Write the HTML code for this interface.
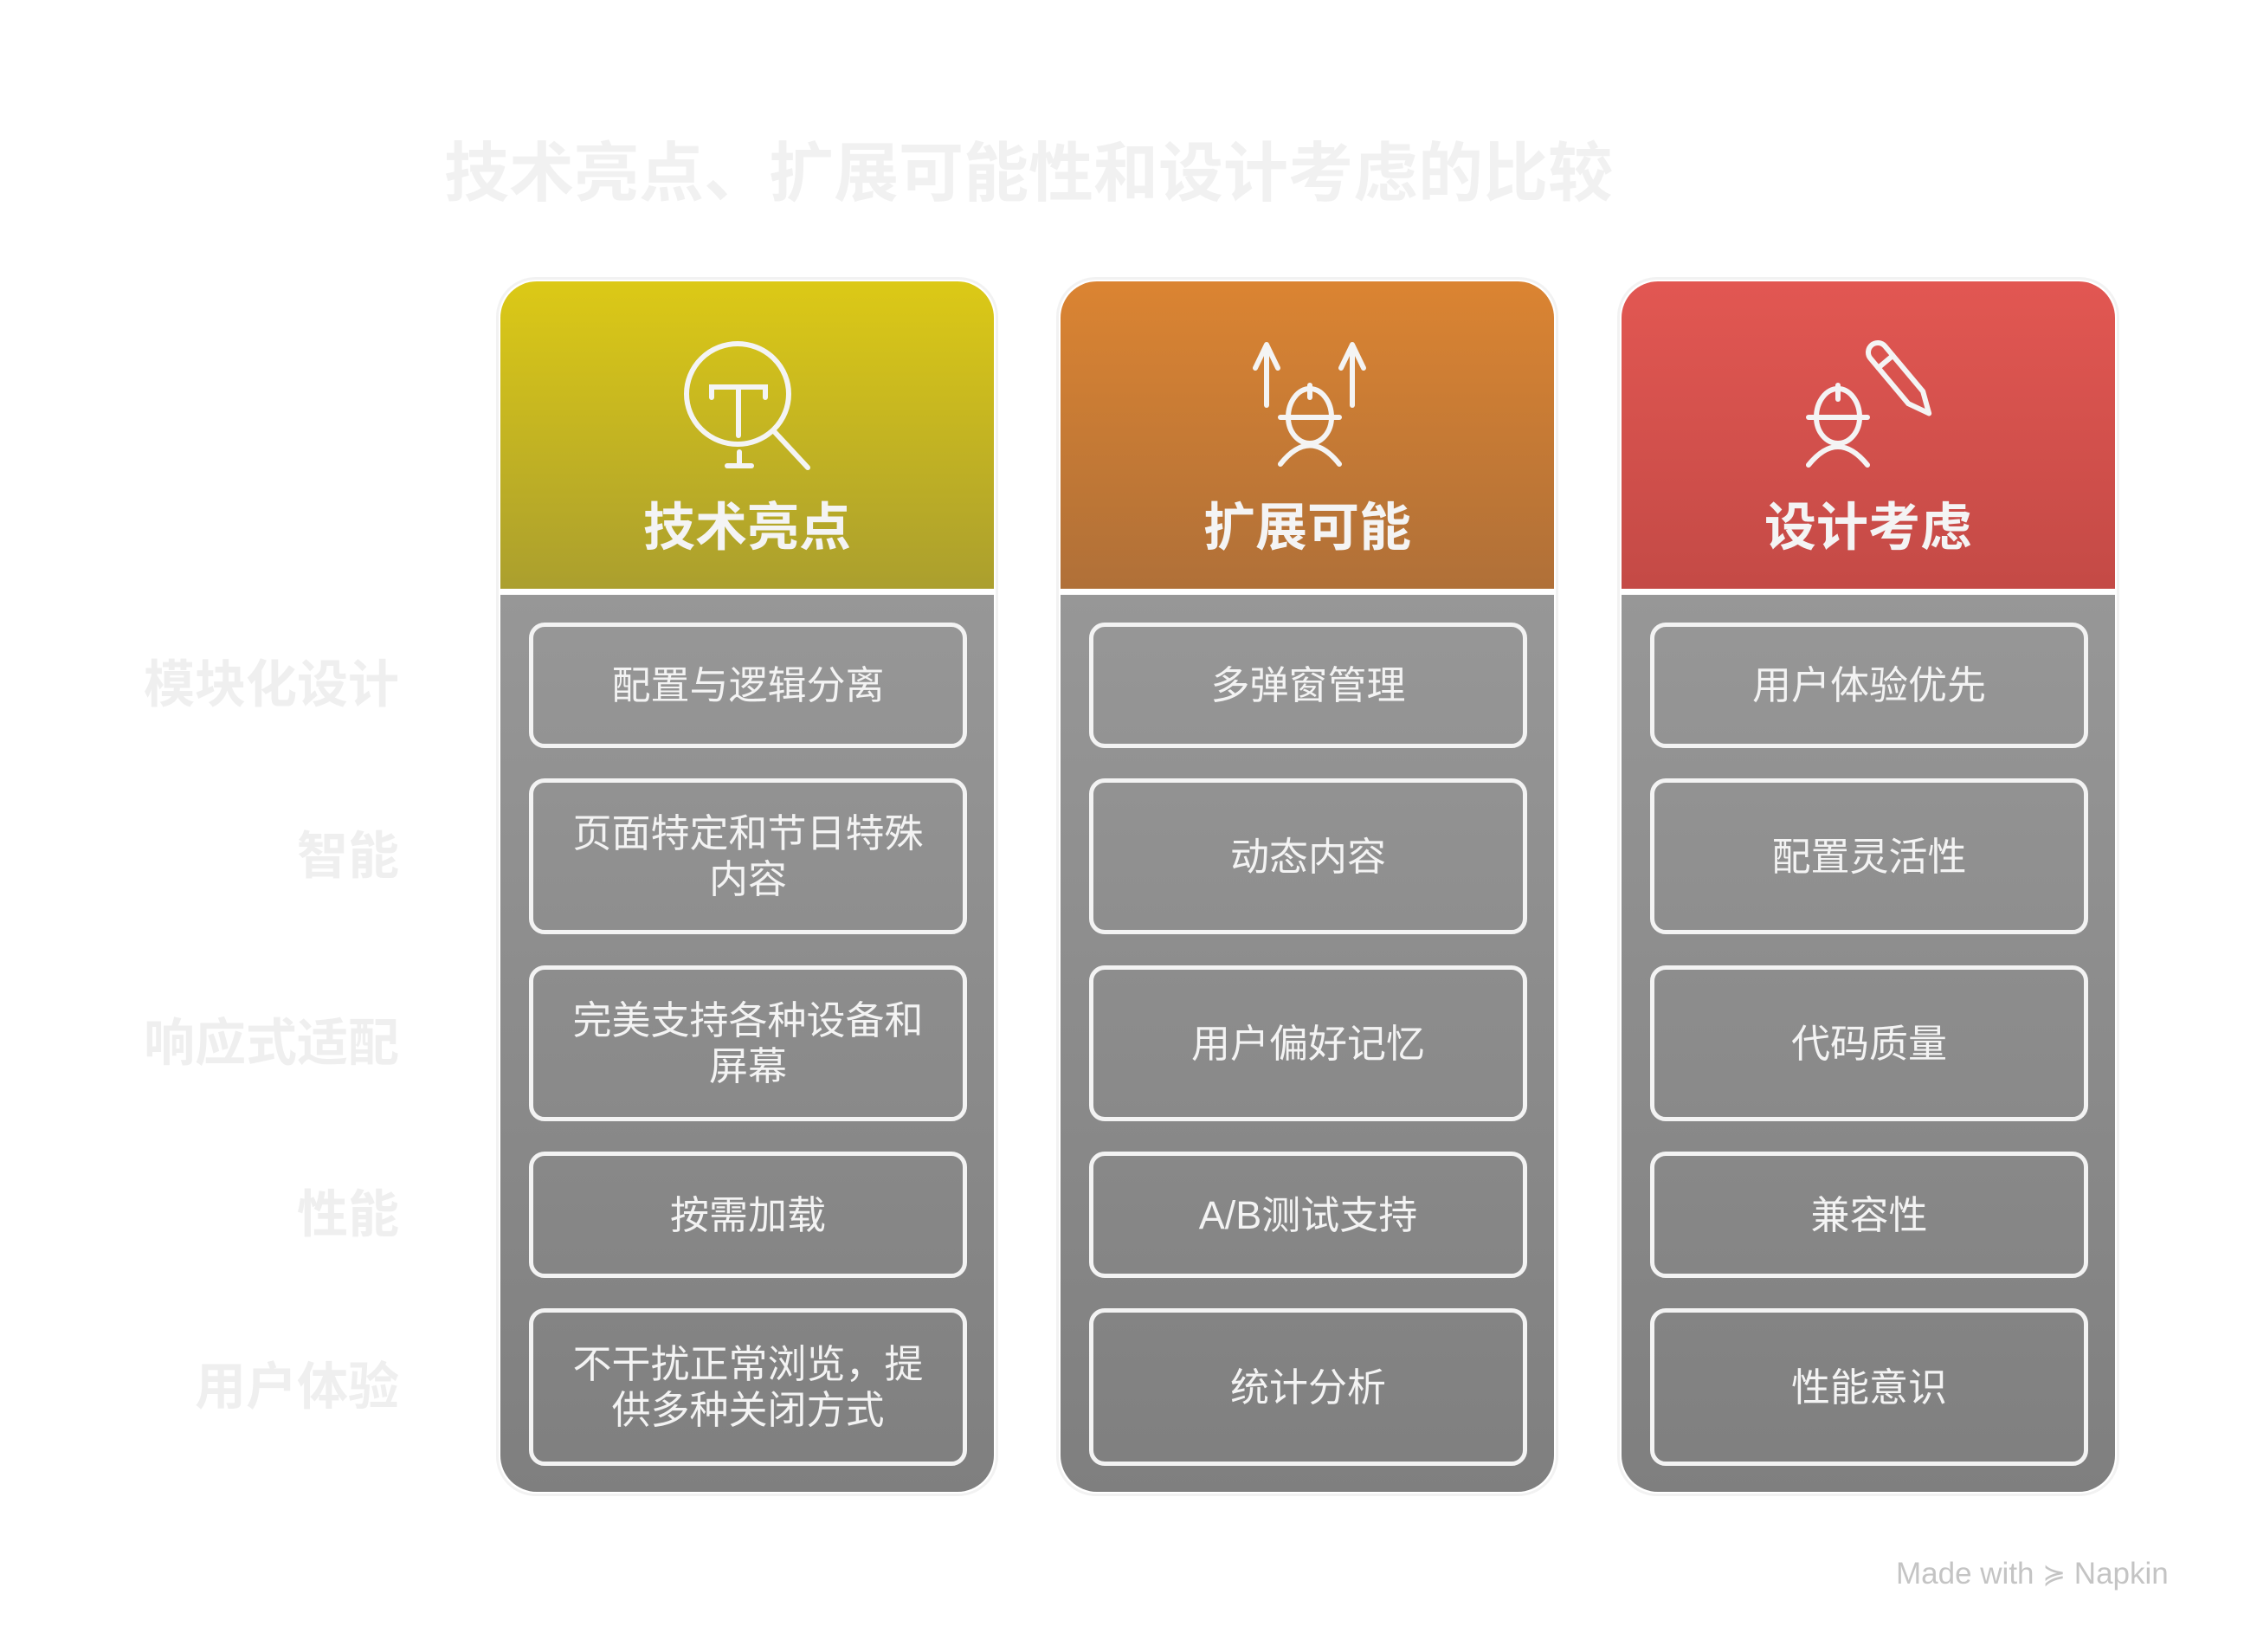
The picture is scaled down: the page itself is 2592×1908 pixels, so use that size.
<!DOCTYPE html>
<html><head><meta charset="utf-8">
<style>
html,body{margin:0;padding:0;background:#fff;}
body{width:2592px;height:1908px;position:relative;overflow:hidden;font-family:"Liberation Sans","Noto Sans CJK SC",sans-serif;}
.title{position:absolute;left:0;width:2376px;text-align:center;top:150px;font-size:75px;font-weight:bold;color:#f1f1f1;line-height:100px;white-space:nowrap;}
.lab{position:absolute;right:2131px;font-size:59px;font-weight:bold;color:#efefef;line-height:70px;white-space:nowrap;text-align:right;}
.col{position:absolute;top:325px;width:570px;height:1398px;}
.ring{position:absolute;left:-5px;top:-5px;right:-5px;bottom:-5px;border:3px solid #f2f2f2;border-radius:46px;}
.head{position:absolute;left:0;top:0;width:570px;height:355px;border-radius:42px 42px 0 0;}
.body{position:absolute;left:0;top:362px;width:570px;height:1036px;border-radius:0 0 42px 42px;background:linear-gradient(#979797,#7f7f7f);}
.ht{position:absolute;left:0;width:570px;top:250px;text-align:center;font-size:60px;font-weight:bold;color:#f4f4f4;line-height:70px;}
.box{position:absolute;left:33px;width:496px;border:5px solid #f3f3f3;border-radius:18px;display:flex;align-items:center;justify-content:center;text-align:center;color:#f3f3f3;font-size:45px;line-height:53px;}
svg{position:absolute;left:0;top:0;}
.wm{position:absolute;left:2190px;top:1798px;font-size:35px;color:#c4c4c4;white-space:nowrap;}
</style></head><body>
<div class="title">技术亮点、扩展可能性和设计考虑的比较</div>

<div class="lab" style="top:756px">模块化设计</div>
<div class="lab" style="top:954px">智能</div>
<div class="lab" style="top:1170px">响应式适配</div>
<div class="lab" style="top:1368px">性能</div>
<div class="lab" style="top:1567px">用户体验</div>

<!-- col 1 -->
<div class="col" style="left:578px">
<div class="ring"></div>
<div class="head" style="background:linear-gradient(#dcc916,#ab9f2e)"></div>
<svg width="570" height="355" fill="none" stroke="#f4f4f4" stroke-width="6" stroke-linecap="round">
<ellipse cx="274" cy="130" rx="59" ry="58"/>
<path d="M244 134 V122 H306 V134"/>
<line x1="275" y1="122" x2="275" y2="178"/>
<line x1="276" y1="197" x2="276" y2="210"/>
<line x1="262" y1="213" x2="290" y2="213"/>
<line x1="315" y1="172" x2="355" y2="215"/>
</svg>
<div class="ht">技术亮点</div>
<div class="body"></div>
<div class="box" style="top:394px;height:135px">配置与逻辑分离</div>
<div class="box" style="top:574px;height:170px">页面特定和节日特殊<br>内容</div>
<div class="box" style="top:790px;height:170px">完美支持各种设备和<br>屏幕</div>
<div class="box" style="top:1005px;height:136px">按需加载</div>
<div class="box" style="top:1186px;height:172px">不干扰正常浏览，提<br>供多种关闭方式</div>
</div>

<!-- col 2 -->
<div class="col" style="left:1225px">
<div class="ring"></div>
<div class="head" style="background:linear-gradient(#db8432,#b07038)"></div>
<svg width="570" height="355" fill="none" stroke="#f4f4f4" stroke-width="6" stroke-linecap="round" stroke-linejoin="round">
<line x1="238" y1="75" x2="238" y2="143"/><path d="M225 100 L238 73 L251 100"/>
<line x1="337" y1="75" x2="337" y2="143"/><path d="M324 100 L337 73 L350 100"/>
<line x1="288" y1="120" x2="288" y2="134"/>
<path d="M263 157 A25 33 0 0 1 313 157 M263 157 A25 30 0 0 0 313 157"/>
<line x1="254" y1="157" x2="322" y2="157"/>
<path d="M254 211 Q288 168 322 211"/>
</svg>
<div class="ht">扩展可能</div>
<div class="body"></div>
<div class="box" style="top:394px;height:135px">多弹窗管理</div>
<div class="box" style="top:574px;height:170px">动态内容</div>
<div class="box" style="top:790px;height:170px">用户偏好记忆</div>
<div class="box" style="top:1005px;height:136px">A/B测试支持</div>
<div class="box" style="top:1186px;height:172px">统计分析</div>
</div>

<!-- col 3 -->
<div class="col" style="left:1873px">
<div class="ring"></div>
<div class="head" style="background:linear-gradient(#e25752,#c44a46)"></div>
<svg width="570" height="355" fill="none" stroke="#f4f4f4" stroke-width="6" stroke-linecap="round" stroke-linejoin="round">
<line x1="250" y1="120" x2="250" y2="136"/>
<path d="M225 157 A25 33 0 0 1 275 157 M225 157 A25 30 0 0 0 275 157"/>
<line x1="216" y1="157" x2="284" y2="157"/>
<path d="M216 212 Q250 170 284 212"/>
<g transform="translate(296,82) rotate(50)">
<path d="M0 -11 H68 L92 0 L68 11 H0 A11 11 0 0 1 0 -11 Z"/>
<line x1="14" y1="-11" x2="14" y2="11"/>
</g>
</svg>
<div class="ht">设计考虑</div>
<div class="body"></div>
<div class="box" style="top:394px;height:135px">用户体验优先</div>
<div class="box" style="top:574px;height:170px">配置灵活性</div>
<div class="box" style="top:790px;height:170px">代码质量</div>
<div class="box" style="top:1005px;height:136px">兼容性</div>
<div class="box" style="top:1186px;height:172px">性能意识</div>
</div>

<div class="wm">Made with <span style="font-size:32px">≽</span> Napkin</div>
</body></html>
